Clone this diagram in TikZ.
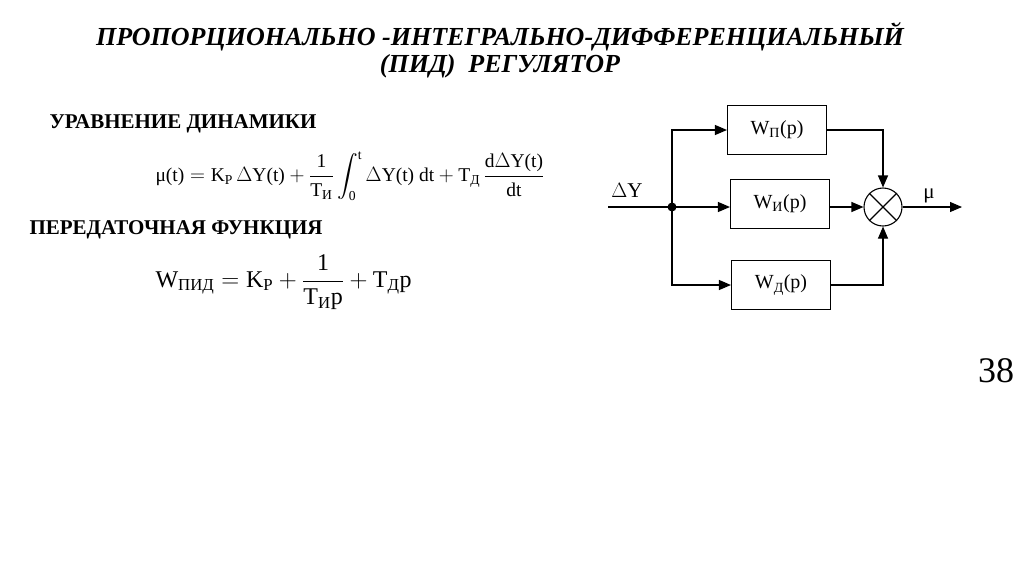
\documentclass[tikz,border=0pt]{standalone}
\usepackage{amsmath}
\usepackage{fontspec}
\setmainfont{Liberation Serif}
\usetikzlibrary{arrows.meta,calc}
\newcommand{\tx}[1]{\text{#1}}
\begin{document}
\begin{tikzpicture}[x=1pt,y=-1pt,
  blk/.style={draw,line width=1.1pt,minimum width=99pt,minimum height=49pt,font=\fontsize{20}{20}\selectfont},
  ln/.style={line width=1.1pt},
  arr/.style={line width=1.1pt,-{Triangle[length=12pt,width=10pt]}}]
\useasboundingbox (0,0) rectangle (1024,574);
\node[font=\fontsize{26}{27}\selectfont\bfseries\itshape,align=center] (title) at (500,50) {ПРОПОРЦИОНАЛЬНО -ИНТЕГРАЛЬНО-ДИФФЕРЕНЦИАЛЬНЫЙ\\(ПИД)\ \ РЕГУЛЯТОР};
\node[font=\fontsize{21}{21}\selectfont\bfseries,anchor=west] (h1) at (46,124) {УРАВНЕНИЕ ДИНАМИКИ};
\node[font=\fontsize{21}{21}\selectfont\bfseries,anchor=west] (h2) at (26,230) {ПЕРЕДАТОЧНАЯ ФУНКЦИЯ};
\node[font=\fontsize{19.5}{20}\selectfont,anchor=west] (eq1) at (152,176) {$\tx{μ(t)} = \tx{K}_{\tx{P}}\,\Delta\tx{Y(t)} + \dfrac{\tx{1}}{\tx{T}_{\tx{И}}}\displaystyle\int_{\tx{0}}^{\tx{t}}\Delta\tx{Y(t) dt} + \tx{T}_{\tx{Д}}\,\dfrac{\tx{d}\Delta\tx{Y(t)}}{\tx{dt}}$};
\node[font=\fontsize{24}{24}\selectfont,anchor=west] (eq2) at (152,282) {$\tx{W}_{\tx{ПИД}} = \tx{K}_{\tx{P}} + \dfrac{\tx{1}}{\tx{T}_{\tx{И}}\tx{p}} + \tx{T}_{\tx{Д}}\tx{p}$};
\node[font=\fontsize{36}{36}\selectfont] (num) at (996,371) {38};
% diagram
\node[blk] (bp) at (777,130) {W\textsubscript{П}(p)};
\node[blk] (bi) at (780,204) {W\textsubscript{И}(p)};
\node[blk] (bd) at (781,285) {W\textsubscript{Д}(p)};
\node[draw,circle,line width=1.1pt,minimum size=38pt,inner sep=0pt] (sum) at (883,207) {};
\draw[ln] (sum.45) -- (sum.225) (sum.135) -- (sum.315);
\coordinate (in) at (608,207);
\coordinate (j) at (672,207);
\coordinate (out) at (962,207);
\fill (j) circle (4.5pt);
\node[font=\fontsize{21}{21}\selectfont] (dy) at (627,190) {$\Delta$Y};
\node[font=\fontsize{21}{21}\selectfont] (mu) at (929,196) {μ};
\draw[ln] (in) -- (j);
\draw[arr] (j) -- (j -| bi.west);
\draw[arr] (j) |- (bp.west);
\draw[arr] (j) |- (bd.west);
\draw[arr] (bi.east |- sum) -- (sum.west);
\draw[arr] (bp.east) -| (sum.north);
\draw[arr] (bd.east) -| (sum.south);
\draw[arr] (sum.east) -- (out);
\end{tikzpicture}
\end{document}
